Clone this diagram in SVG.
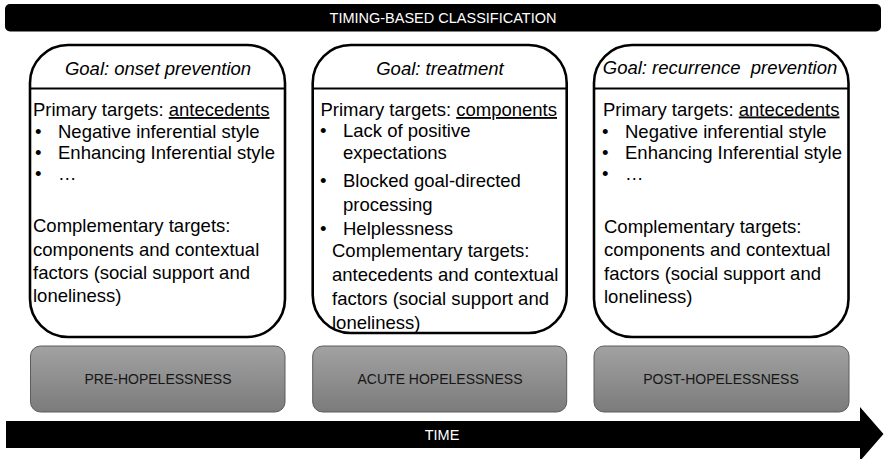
<svg xmlns="http://www.w3.org/2000/svg" width="884" height="459" viewBox="0 0 884 459">
  <defs>
    <linearGradient id="phaseFill" x1="0" y1="0" x2="0" y2="1">
      <stop offset="0" stop-color="#a2a2a2"/>
      <stop offset="1" stop-color="#7b7b7b"/>
    </linearGradient>
  </defs>
  <style>
    .bar { fill: #000; }
    .bar-label { font-family: "Liberation Sans", Arial, sans-serif; font-size: 14.5px; fill: #fff; text-anchor: middle; }
    .card { fill: #fff; stroke: #000; stroke-width: 2.6; }
    .divider { stroke: #000; stroke-width: 2.2; }
    .goal { font-family: "Liberation Sans", Arial, sans-serif; font-style: italic; font-size: 18.5px; fill: #000; text-anchor: middle; white-space: pre; }
    .body { font-family: "Liberation Sans", Arial, sans-serif; font-size: 18.5px; fill: #000; }
    .ul { text-decoration: underline; }
    .phase { fill: url(#phaseFill); stroke: #5c5c5c; stroke-width: 1; }
    .phase-label { font-family: "Liberation Sans", Arial, sans-serif; font-size: 14px; fill: #161616; text-anchor: middle; }
  </style>

  <!-- heading bar -->
  <g id="classification-bar">
    <rect class="bar" x="5" y="4" width="876" height="27.5" rx="5"/>
    <text class="bar-label" x="443" y="23">TIMING-BASED CLASSIFICATION</text>
  </g>

  <!-- card 1: onset prevention -->
  <g id="card-onset">
    <rect class="card" x="30" y="45" width="255" height="292" rx="38"/>
    <line class="divider" x1="30" y1="88.5" x2="285" y2="88.5"/>
    <text class="goal" x="158" y="75">Goal: onset prevention</text>
    <text class="body" x="33" y="116">Primary targets: <tspan class="ul">antecedents</tspan></text>
    <text class="body" x="35" y="137.5">•</text>
    <text class="body" x="58" y="137.5">Negative inferential style</text>
    <text class="body" x="35" y="159">•</text>
    <text class="body" x="58" y="159">Enhancing Inferential style</text>
    <text class="body" x="35" y="180">•</text>
    <text class="body" x="58" y="180">…</text>
    <text class="body" x="33" y="232">Complementary targets:</text>
    <text class="body" x="33" y="255.5">components and contextual</text>
    <text class="body" x="33" y="279">factors (social support and</text>
    <text class="body" x="33" y="302">loneliness)</text>
  </g>

  <!-- card 2: treatment -->
  <g id="card-treatment">
    <rect class="card" x="312.7" y="45" width="254" height="288" rx="38"/>
    <line class="divider" x1="312.7" y1="88.5" x2="566.7" y2="88.5"/>
    <text class="goal" x="440" y="75">Goal: treatment</text>
    <text class="body" x="320.5" y="116">Primary targets: <tspan class="ul">components</tspan></text>
    <text class="body" x="320" y="137">•</text>
    <text class="body" x="343" y="137">Lack of positive</text>
    <text class="body" x="343" y="158.5">expectations</text>
    <text class="body" x="320" y="186.5">•</text>
    <text class="body" x="343" y="186.5">Blocked goal-directed</text>
    <text class="body" x="343" y="210.5">processing</text>
    <text class="body" x="320" y="235">•</text>
    <text class="body" x="343" y="235">Helplessness</text>
    <text class="body" x="332" y="257">Complementary targets:</text>
    <text class="body" x="332" y="281">antecedents and contextual</text>
    <text class="body" x="332" y="305">factors (social support and</text>
    <text class="body" x="332" y="328.5">loneliness)</text>
  </g>

  <!-- card 3: recurrence prevention -->
  <g id="card-recurrence">
    <rect class="card" x="594" y="45" width="254.5" height="292" rx="38"/>
    <line class="divider" x1="594" y1="88.5" x2="848.5" y2="88.5"/>
    <text class="goal" x="720" y="74" xml:space="preserve">Goal: recurrence  prevention</text>
    <text class="body" x="603" y="115.5">Primary targets: <tspan class="ul">antecedents</tspan></text>
    <text class="body" x="602" y="137.5">•</text>
    <text class="body" x="625" y="137.5">Negative inferential style</text>
    <text class="body" x="602" y="159">•</text>
    <text class="body" x="625" y="159">Enhancing Inferential style</text>
    <text class="body" x="602" y="180">•</text>
    <text class="body" x="625" y="180">…</text>
    <text class="body" x="604" y="233">Complementary targets:</text>
    <text class="body" x="604" y="256">components and contextual</text>
    <text class="body" x="604" y="279.5">factors (social support and</text>
    <text class="body" x="604" y="302.5">loneliness)</text>
  </g>

  <!-- phase boxes -->
  <g id="phase-pre">
    <rect class="phase" x="30.5" y="346" width="254.5" height="66" rx="10"/>
    <text class="phase-label" x="158" y="384">PRE-HOPELESSNESS</text>
  </g>
  <g id="phase-acute">
    <rect class="phase" x="312.7" y="346" width="254" height="66" rx="10"/>
    <text class="phase-label" x="440" y="384">ACUTE HOPELESSNESS</text>
  </g>
  <g id="phase-post">
    <rect class="phase" x="594" y="346" width="255" height="66" rx="10"/>
    <text class="phase-label" x="721" y="384">POST-HOPELESSNESS</text>
  </g>

  <!-- time axis arrow -->
  <g id="connectors">
    <path id="time-arrow" class="bar" d="M6,421 H860 V407 L883.5,434 L860,461 V448 H6 Z"/>
    <text class="bar-label" x="442" y="439.5">TIME</text>
  </g>
</svg>
